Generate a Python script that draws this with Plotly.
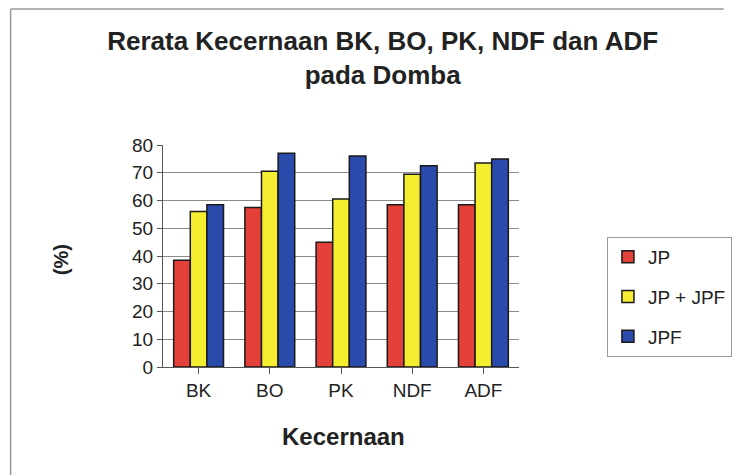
import plotly.graph_objects as go

categories = ["BK", "BO", "PK", "NDF", "ADF"]
jp = [38.5, 57.5, 45, 58.5, 58.5]
jp_jpf = [56, 70.5, 60.5, 69.5, 73.5]
jpf = [58.5, 77, 76, 72.5, 75]
series_names = ["JP", "JP + JPF", "JPF"]
colors = ["#e4403a", "#f5ee30", "#2a4aac"]

font_family = "Liberation Sans, Arial, sans-serif"

fig = go.Figure()
for name, vals, col in zip(series_names, [jp, jp_jpf, jpf], colors):
    fig.add_trace(go.Bar(
        x=categories, y=vals, name=name, legendgroup=name,
        marker=dict(color=col, line=dict(color="#1a1a1a", width=1.5)),
    ))

# figure is 736x467; the page's default 8px body margin shifts it inside the 744x475 window
fig.update_layout(
    width=736, height=467,
    paper_bgcolor="white", plot_bgcolor="white",
    margin=dict(l=155, r=221, t=137, b=108),
    barmode="group", bargap=0.3, bargroupgap=0,
    font=dict(family=font_family, color="#222", size=19),
    title=dict(
        text="<b>Rerata Kecernaan BK, BO, PK, NDF dan ADF<br>pada Domba</b>",
        x=0.617, xref="paper", xanchor="center",
        y=1 - 42 / 467, yref="container", yanchor="middle",
        font=dict(size=26, family=font_family, color="#222"),
    ),
    xaxis=dict(
        showgrid=False, showline=True, linecolor="#555", linewidth=1,
        ticks="outside", ticklen=6, tickcolor="#555",
        tickfont=dict(size=19),
    ),
    yaxis=dict(
        range=[0, 80], dtick=10, showgrid=True, gridcolor="#8a8a8a", gridwidth=1,
        showline=True, linecolor="#555", linewidth=1,
        ticks="outside", ticklen=5, tickcolor="#555",
        tickfont=dict(size=19), zeroline=False,
    ),
    legend=dict(
        x=1.247, y=0.586, xanchor="left", yanchor="top",
        bordercolor="#999", borderwidth=1, bgcolor="white",
        font=dict(size=19), traceorder="grouped", tracegroupgap=12,
        itemwidth=30,
    ),
    showlegend=True,
)

fig.add_annotation(
    text="<b>Kecernaan</b>", xref="paper", yref="paper",
    x=0.508, y=-0.315, showarrow=False, font=dict(size=24),
    xanchor="center", yanchor="middle",
)
fig.add_annotation(
    text="<b>(%)</b>", textangle=-90, xref="paper", yref="paper",
    x=-0.286, y=0.482, showarrow=False, font=dict(size=20),
    xanchor="center", yanchor="middle",
)

# outer chart frame (top and left edges visible in the reference)
fig.add_shape(type="line", xref="paper", yref="paper",
              x0=-0.428, x1=1.575, y0=1.613, y1=1.613,
              line=dict(color="#999", width=1.5))
fig.add_shape(type="line", xref="paper", yref="paper",
              x0=-0.428, x1=-0.428, y0=1.613, y1=-0.486,
              line=dict(color="#999", width=1.5))

fig.write_html("out.html")
